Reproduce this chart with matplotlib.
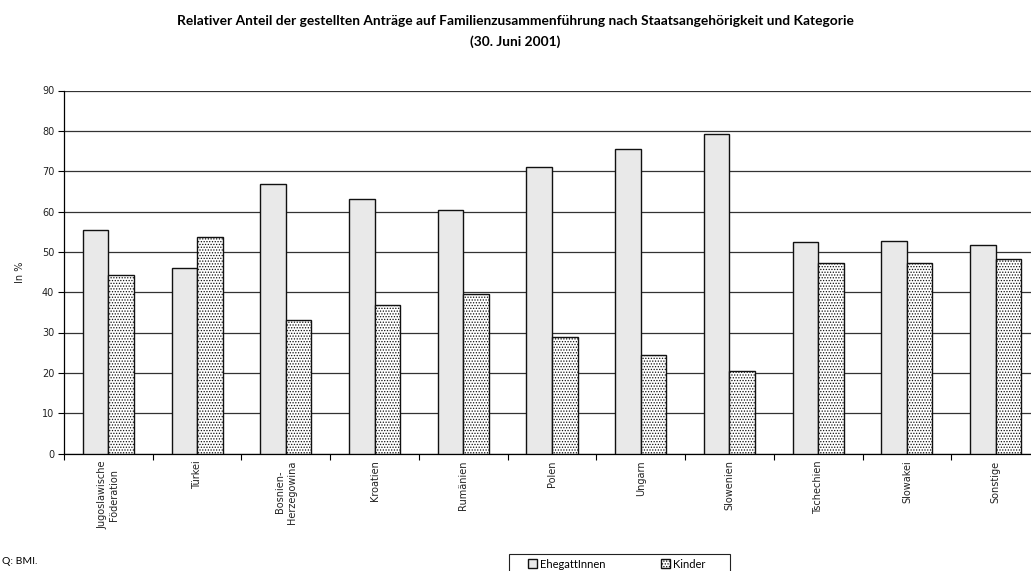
import matplotlib
matplotlib.use("Agg")
import matplotlib.pyplot as plt
from matplotlib.patches import Rectangle
import numpy as np

categories = ["Jugoslawische\nFöderation", "Türkei", "Bosnien-\nHerzegowina", "Kroatien",
              "Rumänien", "Polen", "Ungarn", "Slowenien", "Tschechien", "Slowakei", "Sonstige"]
ehegatten = [55.5, 46.1, 66.7, 63.1, 60.3, 71.0, 75.5, 79.3, 52.5, 52.7, 51.7]
kinder = [44.3, 53.8, 33.2, 36.7, 39.6, 28.9, 24.3, 20.4, 47.3, 47.2, 48.2]
yticks = list(range(0, 100, 10))

W, H = 1031, 571
plt.rcParams["hatch.linewidth"] = 0.6
plt.rcParams["hatch.color"] = "#444444"

fig = plt.figure(figsize=(W / 100, H / 100), dpi=100)
ax = fig.add_axes([64 / W, 1 - 453.5 / H, (1040 - 64) / W, (453.5 - 90.5) / H])

x = np.arange(len(categories))
bw = 0.2875
ax.bar(x - bw / 2, ehegatten, bw, color="#e9e9e9", edgecolor="#111111", linewidth=1.0,
       label="EhegattInnen", zorder=3)
ax.bar(x + bw / 2, kinder, bw, color="white", edgecolor="#111111", linewidth=1.0,
       hatch="......", label="Kinder", zorder=3)

ax.set_xlim(-0.5, len(categories) - 0.5)
ax.set_ylim(0, 90)
ax.set_yticks(yticks)
ax.set_yticklabels([str(v) for v in yticks], fontsize=7, color="#222222")
ax.yaxis.grid(True, color="#333333", linewidth=0.9, zorder=0)
ax.set_axisbelow(True)

# category boundaries carry the tick marks, names sit at the centres
ax.set_xticks(np.arange(len(categories) + 1) - 0.5, minor=False)
ax.set_xticklabels([])
ax.set_xticks(x, minor=True)
ax.set_xticklabels(categories, minor=True, rotation=90, fontsize=7, va="top",
                   ha="center", multialignment="center", color="#222222")
ax.tick_params(axis="x", which="minor", length=0, pad=5)
ax.tick_params(axis="x", which="major", direction="out", length=4, width=0.8)
ax.tick_params(axis="y", direction="out", length=4, width=0.8, pad=3)

for s in ["top", "right"]:
    ax.spines[s].set_visible(False)
ax.spines["left"].set_linewidth(0.9)
ax.spines["bottom"].set_linewidth(0.9)

ax.set_ylabel("In %", fontsize=7, labelpad=12, color="#222222")

fig.text(515 / W, 1 - 21 / H, "Relativer Anteil der gestellten Anträge auf Familienzusammenführung nach Staatsangehörigkeit und Kategorie",
         ha="center", va="center", fontsize=9.9, fontweight="bold", family="Lato")
fig.text(515 / W, 1 - 42 / H, "(30. Juni 2001)", ha="center", va="center",
         fontsize=9.9, fontweight="bold", family="Lato")

fig.text(2 / W, 1 - 562 / H, "Q: BMI.", ha="left", va="center", fontsize=7.5, family="Lato")

# legend box frame
fig.patches.append(Rectangle((509 / W, 1 - 576 / H), (730 - 509) / W, (576 - 554) / H,
                             transform=fig.transFigure, facecolor="white",
                             edgecolor="#222222", linewidth=0.8))
leg = fig.legend(loc="center left", bbox_to_anchor=(528 / W, 1 - 564 / H), ncol=2,
                 frameon=False, handlelength=0.8, handleheight=0.8, handletextpad=0.3,
                 columnspacing=5.0, borderpad=0.0, borderaxespad=0.0,
                 prop={"family": "Lato", "size": 8})

fig.savefig("out.png", dpi=100)
